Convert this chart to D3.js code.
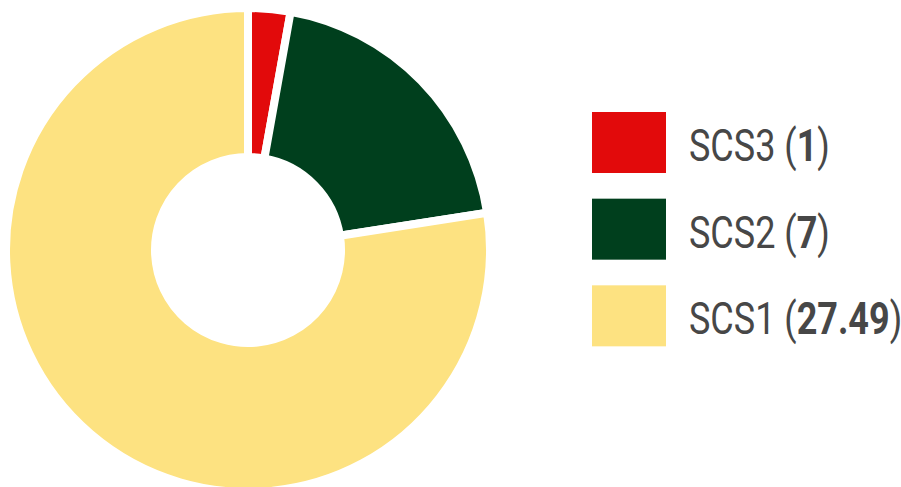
<!DOCTYPE html>
<html lang="en">
<head>
    <meta charset="UTF-8">
    <title>SCS donut</title>
    <script src="https://d3js.org/d3.v7.min.js"></script>
    <style>
        body {
            margin: 0;
            padding: 0;
            background: #fff;
        }
        #chart {
            display: block;
        }
        .legend-label {
            font-family: Roboto, "Liberation Sans", sans-serif;
            font-size: 45px;
            fill: #474747;
        }
    </style>
</head>
<body>
    <svg id="chart" width="901" height="487"></svg>

    <script>
        // data, in drawing order (clockwise from the top)
        const categories = ['SCS3', 'SCS2', 'SCS1'];
        const values = [1, 7, 27.49];
        const colors = ['#e20a0b', '#003f1d', '#fde281'];

        const width = 901;
        const height = 487;
        const cx = 248;
        const cy = 250;
        const outerR = 242;
        const innerR = 93;

        const svg = d3.select('#chart');

        const pie = d3.pie()
            .sort(null)
            .value(d => d.value);

        const arc = d3.arc()
            .innerRadius(innerR)
            .outerRadius(outerR);

        const data = categories.map((c, i) => ({ name: c, value: values[i], color: colors[i] }));

        // donut
        const g = svg.append('g')
            .attr('transform', `translate(${cx},${cy})`);

        g.selectAll('path')
            .data(pie(data))
            .enter()
            .append('path')
            .attr('d', arc)
            .attr('fill', d => d.data.color)
            .attr('stroke', '#fff')
            .attr('stroke-width', 8)
            .attr('stroke-linejoin', 'miter');

        // legend
        const legendY = d3.scaleBand()
            .domain(categories)
            .range([99, 359])
            .paddingInner(0.3)
            .paddingOuter(0.15);

        const legend = svg.append('g');

        const item = legend.selectAll('.item')
            .data(data)
            .enter()
            .append('g')
            .attr('class', 'item')
            .attr('transform', d => `translate(0,${legendY(d.name)})`);

        item.append('rect')
            .attr('x', 592)
            .attr('y', 0)
            .attr('width', 74)
            .attr('height', 61)
            .attr('fill', d => d.color);

        const label = item.append('text')
            .attr('class', 'legend-label')
            .attr('transform', 'translate(689,49) scale(0.8,1)');

        label.append('tspan').text(d => d.name + ' (');
        label.append('tspan').attr('font-weight', 'bold').text(d => d.value);
        label.append('tspan').text(')');
    </script>
</body>
</html>
